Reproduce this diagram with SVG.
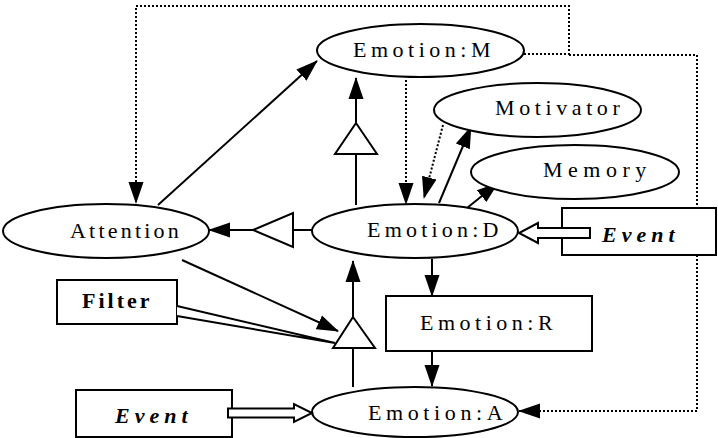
<svg xmlns="http://www.w3.org/2000/svg" width="718" height="438" viewBox="0 0 718 438">
<defs>
<marker id="ah" markerUnits="userSpaceOnUse" markerWidth="22" markerHeight="16" refX="21" refY="8" orient="auto">
<path d="M0,0.5 L22,8 L0,15.5 z" fill="#000"/>
</marker>
</defs>
<style>
.n{fill:#fff;stroke:#000;stroke-width:2}
.t{font-family:"Liberation Serif","Times New Roman",serif;font-size:22px;fill:#000}
.b{font-weight:bold}
.i{font-style:italic}
.c{fill:none;stroke:#000;stroke-width:2}
.d{fill:none;stroke:#000;stroke-width:2;stroke-dasharray:2 2}
.h{fill:#fff;stroke:#000;stroke-width:2}
</style>
<rect width="718" height="438" fill="#fff"/>
<g id="connectors">
<path class="d" d="M524,54 H569 V6 H136 V203" marker-end="url(#ah)"/>
<path class="d" d="M569,55 H697 V411 H519" marker-end="url(#ah)"/>
<path class="d" d="M406,80 V204" marker-end="url(#ah)"/>
<path class="d" d="M443,125 L424,198" marker-end="url(#ah)"/>
<path class="c" d="M158,205 L317,61" marker-end="url(#ah)"/>
<path class="c" d="M439,203 L471,127" marker-end="url(#ah)"/>
<path class="c" d="M467,208 L498,183" marker-end="url(#ah)"/>
<path class="c" d="M432,259 V296" marker-end="url(#ah)"/>
<path class="c" d="M432,351 V386" marker-end="url(#ah)"/>
<path class="c" d="M356,205 V154"/>
<path class="c" d="M356,123 V78" marker-end="url(#ah)"/>
<path class="c" d="M312,230 H293"/>
<path class="c" d="M253,230 H209" marker-end="url(#ah)"/>
<path class="c" d="M353,387 V348"/>
<path class="c" d="M353,317 V261" marker-end="url(#ah)"/>
<path class="c" d="M182,260 L338,331" marker-end="url(#ah)"/>
<polygon class="h" points="356,123 377,154 335,154"/>
<polygon class="h" points="253,230 293,213 293,247"/>
<polygon class="h" points="353,317 375,348 333,348"/>
</g>
<g id="emotion-m"><ellipse class="n" cx="420.5" cy="50.5" rx="103.5" ry="26.5"/><text class="t" x="353" y="57" letter-spacing="4.5">Emotion:M</text></g>
<g id="motivator"><ellipse class="n" cx="537.5" cy="110" rx="103.5" ry="27"/><text class="t" x="495" y="115" letter-spacing="4.6">Motivator</text></g>
<g id="memory"><ellipse class="n" cx="575" cy="172" rx="104" ry="27"/><text class="t" x="543" y="177" letter-spacing="5.5">Memory</text></g>
<g id="attention"><ellipse class="n" cx="106" cy="231" rx="103" ry="27"/><text class="t" x="70" y="238" letter-spacing="3.2">Attention</text></g>
<g id="emotion-d"><ellipse class="n" cx="415" cy="231" rx="103" ry="27"/><text class="t" x="367" y="237" letter-spacing="4.2">Emotion:D</text></g>
<g id="emotion-r"><rect class="n" x="386" y="296" width="206" height="55"/><text class="t" x="420" y="330" letter-spacing="4.5">Emotion:R</text></g>
<g id="emotion-a"><ellipse class="n" cx="415" cy="412" rx="103" ry="25"/><text class="t" x="368" y="420" letter-spacing="4.6">Emotion:A</text></g>
<g id="event-right"><rect class="n" x="562" y="208" width="154" height="47"/><text class="t b i" x="602" y="242" letter-spacing="5">Event</text>
<polygon class="h" points="590,228 538,228 538,223 519,233 538,243 538,238 590,238"/></g>
<g id="filter"><rect class="n" x="57" y="280" width="120" height="44"/><text class="t b" x="82" y="308" letter-spacing="3">Filter</text>
<polyline class="h" points="177,306 335,343 177,316"/></g>
<g id="event-bottom"><rect class="n" x="76" y="390" width="156" height="47"/><text class="t b i" x="115" y="423" letter-spacing="5">Event</text>
<polygon class="h" points="228,408.5 294,408.5 294,404 312,413 294,422 294,417.5 228,417.5"/></g>
</svg>
